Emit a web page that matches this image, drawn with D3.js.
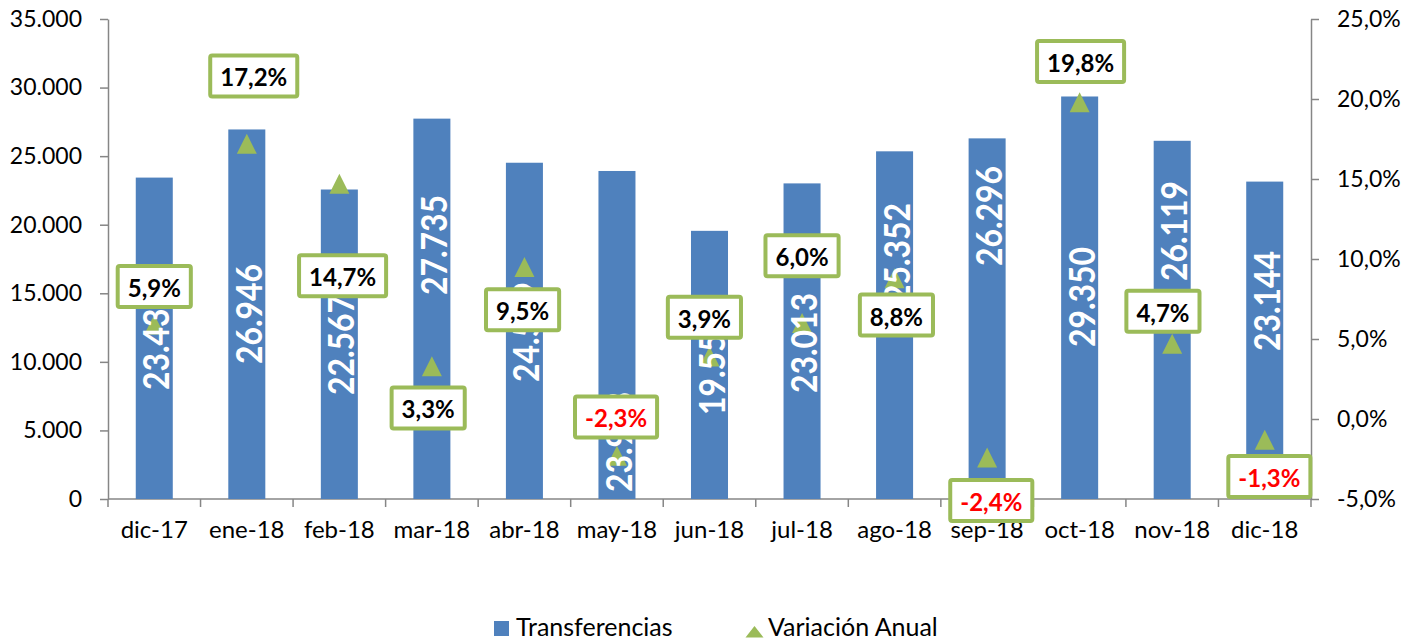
<!DOCTYPE html>
<html>
<head>
<meta charset="utf-8">
<script src="https://cdn.jsdelivr.net/npm/d3@7"></script>
<style>
  html, body { margin: 0; padding: 0; background: #fff; }
  svg { display: block; font-family: Lato, "Open Sans", sans-serif; }
</style>
</head>
<body>
<svg id="chart" width="1419" height="642"></svg>
<script>
// ---------- data ----------
const categories = ["dic-17","ene-18","feb-18","mar-18","abr-18","may-18","jun-18","jul-18","ago-18","sep-18","oct-18","nov-18","dic-18"];
const transferencias = [23436, 26946, 22567, 27735, 24519, 23918, 19553, 23013, 25352, 26296, 29350, 26119, 23144];
const variacionAnual = [5.9, 17.2, 14.7, 3.3, 9.5, -2.3, 3.9, 6.0, 8.8, -2.4, 19.8, 4.7, -1.3];
const leftTicks = [0, 5000, 10000, 15000, 20000, 25000, 30000, 35000];
const rightTicks = [-5, 0, 5, 10, 15, 20, 25];
const seriesNames = ["Transferencias", "Variación Anual"];

// ---------- label placement (manually moved labels, in axis units) ----------
const barLabelAt = [11594, 13490, 11229, 18521, 12177, 4156, 9771, 11375, 17938, 20635, 14729, 19542, 14438];
const pctLabelAt = [8.28, 21.44, 8.96, 0.69, 6.83, 0.13, 6.36, 10.2, 6.5, -5.09, 22.34, 6.73, -3.6];
const pctLabelShift = [0, 0.075, 0.035, -0.04, -0.02, -0.01, -0.055, 0, 0.02, 0.045, 0.01, -0.1, 0.05]; // fraction of band step

// ---------- setup ----------
const M = { left: 108, right: 1311, top: 19, bottom: 499 };
const C = { bar: "#4F81BD", tri: "#9BBB59", axis: "#868686", neg: "#FF0000" };

const loc = d3.formatLocale({ decimal: ",", thousands: ".", grouping: [3], currency: ["", ""], minus: "-" });
const fmtInt = loc.format(",d");
const fmtPct = v => loc.format(".1f")(v) + "%";

const svg = d3.select("#chart");

const x = d3.scaleBand().domain(categories).range([M.left, M.right]).paddingInner(0.6).paddingOuter(0.3);
const yL = d3.scaleLinear().domain([0, 35000]).range([M.bottom, M.top]);
const yR = d3.scaleLinear().domain([-5, 25]).range([M.bottom, M.top]);
const step = x.step();
const cx = c => x(c) + x.bandwidth() / 2;

// ---------- axes ----------
const axL = svg.append("g").attr("transform", `translate(${M.left},0)`)
  .call(d3.axisLeft(yL).tickValues(leftTicks).tickFormat(fmtInt).tickSize(8).tickPadding(18).tickSizeOuter(0));
const axR = svg.append("g").attr("transform", `translate(${M.right},0)`)
  .call(d3.axisRight(yR).tickValues(rightTicks).tickFormat(fmtPct).tickSize(8).tickPadding(18).tickSizeOuter(0));
[axL, axR].forEach(g => {
  g.select(".domain").attr("stroke", C.axis).attr("stroke-width", 1.5);
  g.selectAll(".tick line").attr("stroke", C.axis).attr("stroke-width", 1.5);
  g.selectAll(".tick text").attr("fill", "#000").style("font-size", "23px").style("font-family", "Lato, sans-serif");
});

// x axis line and boundary ticks
const gx = svg.append("g");
gx.append("line").attr("x1", M.left).attr("x2", M.right).attr("y1", yL(0)).attr("y2", yL(0))
  .attr("stroke", C.axis).attr("stroke-width", 1.5);
const bounds = categories.map(c => cx(c) - step / 2).concat([cx(categories[categories.length - 1]) + step / 2]);
gx.selectAll("line.bt").data(bounds).join("line").attr("class", "bt")
  .attr("x1", d => d).attr("x2", d => d).attr("y1", yL(0)).attr("y2", yL(0) + 8)
  .attr("stroke", C.axis).attr("stroke-width", 1.5);
gx.selectAll("text").data(categories).join("text")
  .attr("x", d => cx(d)).attr("y", 538).attr("text-anchor", "middle")
  .style("font-size", "24px").attr("fill", "#000").text(d => d);

// ---------- bars ----------
svg.append("g").selectAll("rect").data(categories).join("rect")
  .attr("x", d => x(d)).attr("width", x.bandwidth())
  .attr("y", (d, i) => yL(transferencias[i]))
  .attr("height", (d, i) => yL(0) - yL(transferencias[i]))
  .attr("fill", C.bar);

// ---------- triangles ----------
const triPath = "M0,-10L10,10L-10,10Z";
svg.append("g").selectAll("path").data(categories).join("path")
  .attr("d", triPath)
  .attr("transform", (d, i) => `translate(${cx(d)},${yR(variacionAnual[i])})`)
  .attr("fill", C.tri);

// ---------- bar value labels (rotated) ----------
svg.append("g").selectAll("text").data(categories).join("text")
  .attr("transform", (d, i) => `translate(${cx(d) + 1},${yL(barLabelAt[i])}) rotate(-90)`)
  .attr("text-anchor", "middle").attr("dominant-baseline", "central")
  .attr("fill", "#fff").style("font-size", "36px").style("font-weight", "700")
  .attr("textLength", 100).attr("lengthAdjust", "spacingAndGlyphs")
  .text((d, i) => fmtInt(transferencias[i]));

// ---------- percentage boxes ----------
const gp = svg.append("g");
categories.forEach((c, i) => {
  const px = cx(c) + pctLabelShift[i] * step;
  const py = yR(pctLabelAt[i]);
  const g = gp.append("g").attr("transform", `translate(${px},${py})`);
  const rect = g.append("rect").attr("fill", "#fff").attr("stroke", C.tri).attr("stroke-width", 4).attr("rx", 2);
  const t = g.append("text").attr("text-anchor", "middle").attr("dominant-baseline", "central").attr("y", 1)
    .style("font-size", "24px").style("font-weight", "700")
    .attr("fill", variacionAnual[i] < 0 ? C.neg : "#000")
    .text(fmtPct(variacionAnual[i]));
  const w = t.node().getComputedTextLength() + 20;
  const h = 41;
  rect.attr("x", -w / 2).attr("y", -h / 2).attr("width", w).attr("height", h);
});

// ---------- legend ----------
const lg = svg.append("g");
lg.append("rect").attr("x", 494).attr("y", 621).attr("width", 15).attr("height", 15).attr("fill", C.bar);
lg.append("text").attr("x", 516).attr("y", 636).style("font-size", "25px").attr("fill", "#000").text(seriesNames[0]);
lg.append("path").attr("d", "M754.5,626L763.5,637.5L745.5,637.5Z").attr("fill", C.tri);
lg.append("text").attr("x", 768).attr("y", 636).style("font-size", "25px").attr("fill", "#000").text(seriesNames[1]);
</script>
</body>
</html>
